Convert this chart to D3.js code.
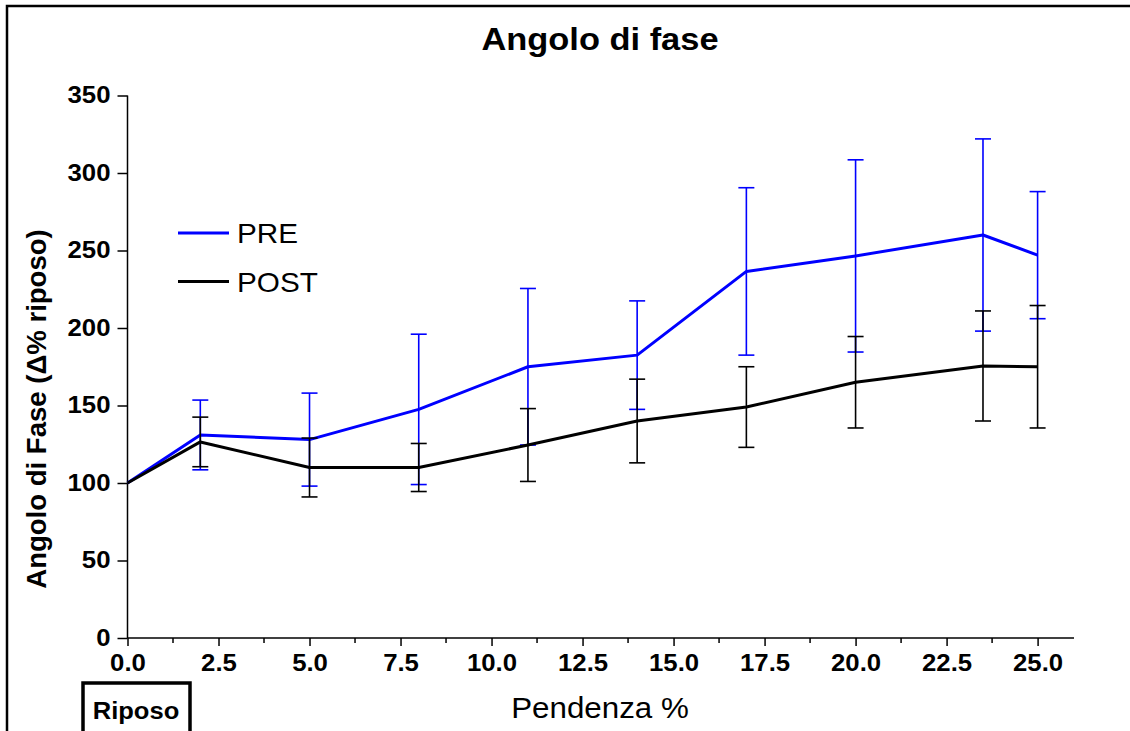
<!DOCTYPE html>
<html>
<head>
<meta charset="utf-8">
<script src="https://cdn.jsdelivr.net/npm/d3@7"></script>
<style>
  html, body { margin: 0; padding: 0; background: #fff; overflow: hidden; }
  svg { display: block; }
  text { font-family: "Liberation Sans", Arial, sans-serif; }
</style>
</head>
<body>
<svg id="chart" width="1130" height="731"></svg>
<script>
// Slope steps (%), 0 = rest
const slope = [0, 2, 5, 8, 11, 14, 17, 20, 23.5, 25];
// Phase angle, % of rest value, with standard deviation
const preMean  = [100, 131, 128, 147.5, 175, 182.5, 236.5, 246.5, 260, 247];
const preSD    = [0, 22.5, 30, 48.5, 50.5, 35, 54, 62, 62, 41];
const postMean = [100, 126.5, 110, 110, 124.5, 140, 149, 165, 175.5, 175];
const postSD   = [0, 16, 19, 15.5, 23.5, 27, 26, 29.5, 35.5, 39.5];

const xTicks = [0, 2.5, 5, 7.5, 10, 12.5, 15, 17.5, 20, 22.5, 25];
const xMinor = [1.25, 3.75, 6.25, 8.75, 11.25, 13.75, 16.25, 18.75, 21.25, 23.75];
const yTicks = [0, 50, 100, 150, 200, 250, 300, 350];

const seriesNames = ["PRE", "POST"];
const seriesColors = ["#0000ff", "#000000"];

const svg = d3.select("#chart");

const x = d3.scaleLinear().domain([0, 26]).range([127.5, 1074]);
const y = d3.scaleLinear().domain([0, 350]).range([638, 95.5]);

// widen glyphs horizontally by a factor, keeping their height
function widen(sel, factor) {
  sel.each(function () {
    const w = this.getComputedTextLength();
    this.setAttribute("textLength", (w * factor).toFixed(1));
    this.setAttribute("lengthAdjust", "spacingAndGlyphs");
  });
}

// frame (top and left edges)
svg.append("path")
  .attr("d", "M7,731V6H1130")
  .attr("fill", "none")
  .attr("stroke", "#000")
  .attr("stroke-width", 2.5);

// title
svg.append("text")
  .attr("x", 600).attr("y", 50)
  .attr("text-anchor", "middle")
  .attr("font-size", 31).attr("font-weight", "bold")
  .text("Angolo di fase")
  .call(widen, 1.11);

// y axis
const yAxis = svg.append("g")
  .attr("transform", `translate(${x(0)},0)`)
  .call(d3.axisLeft(y).tickValues(yTicks).tickFormat(d3.format("d")).tickSize(10).tickPadding(7));
yAxis.select(".domain").attr("d", `M0,${y(350)}V${y(0)}`);

// x axis
const xAxis = svg.append("g")
  .attr("transform", `translate(0,${y(0)})`)
  .call(d3.axisBottom(x).tickValues(xTicks).tickFormat(d3.format(".1f")).tickSize(8).tickPadding(9));
xAxis.select(".domain").attr("d", `M${x(0)},0H${x(26)}`);
xAxis.append("g").selectAll("line").data(xMinor).join("line")
  .attr("x1", d => x(d)).attr("x2", d => x(d))
  .attr("y1", 0).attr("y2", 5)
  .attr("stroke", "#000").attr("stroke-width", 1.5);

[yAxis, xAxis].forEach(a => {
  a.selectAll(".domain, .tick line").attr("stroke", "#000").attr("stroke-width", 1.5);
  a.selectAll(".tick text")
    .attr("fill", "#000")
    .attr("font-size", 23)
    .attr("font-weight", "bold")
    .attr("font-family", "'Liberation Sans', Arial, sans-serif")
    .call(widen, 1.12);
});

// axis titles
svg.append("text")
  .attr("transform", `translate(46,409) rotate(-90)`)
  .attr("text-anchor", "middle")
  .attr("font-size", 27).attr("font-weight", "bold")
  .text("Angolo di Fase (Δ% riposo)")
  .call(widen, 1.02);

svg.append("text")
  .attr("x", 600).attr("y", 718)
  .attr("text-anchor", "middle")
  .attr("font-size", 29)
  .text("Pendenza %")
  .call(widen, 1.08);

// rest marker box
svg.append("rect")
  .attr("x", 83).attr("y", 683).attr("width", 107).attr("height", 60)
  .attr("fill", "none").attr("stroke", "#000").attr("stroke-width", 3.5);
svg.append("text")
  .attr("x", 136).attr("y", 719)
  .attr("text-anchor", "middle")
  .attr("font-size", 23).attr("font-weight", "bold")
  .text("Riposo")
  .call(widen, 1.11);

// series
const series = [
  { name: seriesNames[0], color: seriesColors[0], mean: preMean, sd: preSD },
  { name: seriesNames[1], color: seriesColors[1], mean: postMean, sd: postSD }
];

const line = d3.line().x(d => x(d.s)).y(d => y(d.m));
const capHalf = 8;

series.forEach(sr => {
  const pts = slope.map((s, i) => ({ s, m: sr.mean[i], e: sr.sd[i] }));
  const g = svg.append("g");
  const bars = pts.filter(p => p.e > 0);
  g.selectAll("line.bar").data(bars).join("line")
    .attr("class", "bar")
    .attr("x1", d => x(d.s)).attr("x2", d => x(d.s))
    .attr("y1", d => y(d.m + d.e)).attr("y2", d => y(d.m - d.e))
    .attr("stroke", sr.color).attr("stroke-width", 1.6);
  [1, -1].forEach(sign => {
    g.selectAll(null).data(bars).join("line")
      .attr("x1", d => x(d.s) - capHalf).attr("x2", d => x(d.s) + capHalf)
      .attr("y1", d => y(d.m + sign * d.e)).attr("y2", d => y(d.m + sign * d.e))
      .attr("stroke", sr.color).attr("stroke-width", 1.6);
  });
  g.append("path")
    .datum(pts)
    .attr("d", line)
    .attr("fill", "none")
    .attr("stroke", sr.color)
    .attr("stroke-width", 3)
    .attr("stroke-linejoin", "round");
});

// legend
const legend = svg.append("g");
series.forEach((sr, i) => {
  const ly = 233 + i * 48.5;
  legend.append("line")
    .attr("x1", 178).attr("x2", 229).attr("y1", ly).attr("y2", ly)
    .attr("stroke", sr.color).attr("stroke-width", 3);
  legend.append("text")
    .attr("x", 237).attr("y", ly + 10)
    .attr("font-size", 28)
    .text(sr.name)
    .call(widen, 1.06);
});
</script>
</body>
</html>
